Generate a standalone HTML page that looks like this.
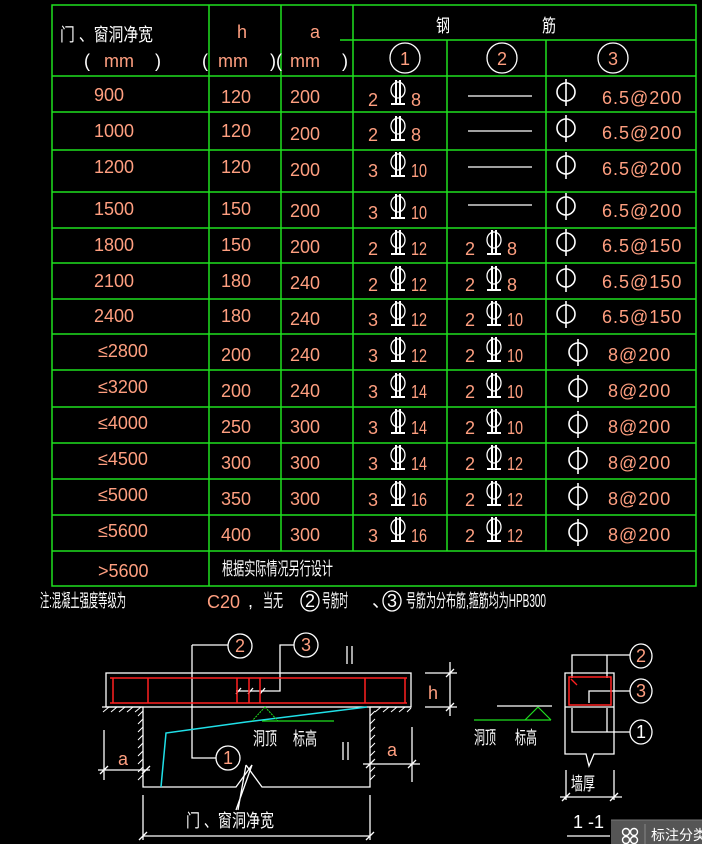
<!DOCTYPE html>
<html><head><meta charset="utf-8"><style>
html,body{margin:0;padding:0;background:#000;}
svg{display:block}
text{font-family:"Liberation Sans","Noto Sans CJK SC",sans-serif;}
.s{fill:#ff9f80;font-size:18px}
.w{fill:#fff;font-size:18px}
.g{stroke:#1fe01f;stroke-width:1.5;fill:none}
.l{stroke:#fff;stroke-width:1.3;fill:none}
.r{stroke:#ff2020;stroke-width:1.5;fill:none}
.c{stroke:#20e0e8;stroke-width:1.5;fill:none}
.gr{stroke:#1fe01f;stroke-width:1.3;fill:none}
</style></head><body>
<svg width="702" height="844" viewBox="0 0 702 844" xmlns="http://www.w3.org/2000/svg">
<defs>
<g id="hrb"><ellipse cx="0" cy="0" rx="7" ry="8" fill="none" stroke="#fff" stroke-width="1.3"/><path d="M-2 -10V14M2 -10V14M-7 14H7" stroke="#fff" stroke-width="2" fill="none"/></g>
<g id="phi"><ellipse cx="0" cy="0" rx="9" ry="9" fill="none" stroke="#fff" stroke-width="1.6"/><path d="M0 -13V14" stroke="#fff" stroke-width="1.6"/></g>
</defs>
<rect width="702" height="844" fill="#000"/>
<g class="g">
<rect x="52" y="5" width="644" height="581"/>
<line x1="340" y1="40" x2="696" y2="40"/>
<line x1="209" y1="5" x2="209" y2="586"/>
<line x1="281" y1="5" x2="281" y2="551"/>
<line x1="353" y1="5" x2="353" y2="551"/>
<line x1="447" y1="40" x2="447" y2="551"/>
<line x1="546" y1="40" x2="546" y2="551"/>
<line x1="52" y1="76" x2="696" y2="76"/>
<line x1="52" y1="112" x2="696" y2="112"/>
<line x1="52" y1="150" x2="696" y2="150"/>
<line x1="52" y1="192" x2="696" y2="192"/>
<line x1="52" y1="228" x2="696" y2="228"/>
<line x1="52" y1="263" x2="696" y2="263"/>
<line x1="52" y1="299" x2="696" y2="299"/>
<line x1="52" y1="334" x2="696" y2="334"/>
<line x1="52" y1="370" x2="696" y2="370"/>
<line x1="52" y1="407" x2="696" y2="407"/>
<line x1="52" y1="443" x2="696" y2="443"/>
<line x1="52" y1="479" x2="696" y2="479"/>
<line x1="52" y1="515" x2="696" y2="515"/>
<line x1="52" y1="551" x2="696" y2="551"/>
</g>
<text class="w" x="60" y="41" font-size="20" textLength="93" lengthAdjust="spacingAndGlyphs">门 、窗洞净宽</text>
<text class="w" x="84" y="67">(</text><text class="s" x="104" y="67" font-size="15">mm</text><text class="w" x="155" y="67">)</text>
<text class="w" x="202" y="67">(</text><text class="s" x="218" y="67" font-size="15">mm</text><text class="w" x="270" y="67">)(</text>
<text class="s" x="290" y="67" font-size="15">mm</text><text class="w" x="342" y="67">)</text>
<text class="s" x="237" y="38" font-size="19">h</text>
<text class="s" x="310" y="38" font-size="19">a</text>
<text class="w" x="436" y="32" font-size="20" textLength="14" lengthAdjust="spacingAndGlyphs">钢</text><text class="w" x="542" y="32" font-size="20" textLength="14" lengthAdjust="spacingAndGlyphs">筋</text>
<g class="l"><ellipse cx="405" cy="58" rx="15" ry="15"/><ellipse cx="502" cy="58" rx="15" ry="15"/><ellipse cx="613" cy="58" rx="15" ry="15"/></g>
<text class="s" x="405" y="65" text-anchor="middle">1</text>
<text class="s" x="502" y="65" text-anchor="middle">2</text>
<text class="s" x="613" y="65" text-anchor="middle">3</text>

<g class="s">
<text x="94" y="101">900</text><text x="221" y="103">120</text><text x="290" y="103">200</text>
<text x="94" y="137">1000</text><text x="221" y="137">120</text><text x="290" y="140">200</text>
<text x="94" y="173">1200</text><text x="221" y="173">120</text><text x="290" y="176">200</text>
<text x="94" y="215">1500</text><text x="221" y="215">150</text><text x="290" y="217">200</text>
<text x="94" y="251">1800</text><text x="221" y="251">150</text><text x="290" y="253">200</text>
<text x="94" y="287">2100</text><text x="221" y="287">180</text><text x="290" y="289">240</text>
<text x="94" y="322">2400</text><text x="221" y="322">180</text><text x="290" y="325">240</text>
<text x="98" y="357">≤2800</text><text x="221" y="361">200</text><text x="290" y="361">240</text>
<text x="98" y="393">≤3200</text><text x="221" y="397">200</text><text x="290" y="397">240</text>
<text x="98" y="429">≤4000</text><text x="221" y="433">250</text><text x="290" y="433">300</text>
<text x="98" y="465">≤4500</text><text x="221" y="469">300</text><text x="290" y="469">300</text>
<text x="98" y="501">≤5000</text><text x="221" y="505">350</text><text x="290" y="505">300</text>
<text x="98" y="537">≤5600</text><text x="221" y="541">400</text><text x="290" y="541">300</text>
<text x="98" y="577">&gt;5600</text>
</g>
<text class="w" x="222" y="575" font-size="19" textLength="111" lengthAdjust="spacingAndGlyphs">根据实际情况另行设计</text>

<g class="s">
<text x="368" y="106">2</text><text x="411" y="106">8</text>
<text x="368" y="141">2</text><text x="411" y="141">8</text>
<text x="368" y="177">3</text><text x="411" y="177" textLength="16" lengthAdjust="spacingAndGlyphs">10</text>
<text x="368" y="219">3</text><text x="411" y="219" textLength="16" lengthAdjust="spacingAndGlyphs">10</text>
<text x="368" y="255">2</text><text x="411" y="255" textLength="16" lengthAdjust="spacingAndGlyphs">12</text>
<text x="368" y="291">2</text><text x="411" y="291" textLength="16" lengthAdjust="spacingAndGlyphs">12</text>
<text x="368" y="326">3</text><text x="411" y="326" textLength="16" lengthAdjust="spacingAndGlyphs">12</text>
<text x="368" y="362">3</text><text x="411" y="362" textLength="16" lengthAdjust="spacingAndGlyphs">12</text>
<text x="368" y="398">3</text><text x="411" y="398" textLength="16" lengthAdjust="spacingAndGlyphs">14</text>
<text x="368" y="434">3</text><text x="411" y="434" textLength="16" lengthAdjust="spacingAndGlyphs">14</text>
<text x="368" y="470">3</text><text x="411" y="470" textLength="16" lengthAdjust="spacingAndGlyphs">14</text>
<text x="368" y="506">3</text><text x="411" y="506" textLength="16" lengthAdjust="spacingAndGlyphs">16</text>
<text x="368" y="542">3</text><text x="411" y="542" textLength="16" lengthAdjust="spacingAndGlyphs">16</text>
</g>
<use href="#hrb" x="398" y="90"/><use href="#hrb" x="398" y="126"/><use href="#hrb" x="398" y="162"/><use href="#hrb" x="398" y="204"/>
<use href="#hrb" x="398" y="240"/><use href="#hrb" x="398" y="276"/><use href="#hrb" x="398" y="311"/><use href="#hrb" x="398" y="347"/>
<use href="#hrb" x="398" y="383"/><use href="#hrb" x="398" y="419"/><use href="#hrb" x="398" y="455"/><use href="#hrb" x="398" y="491"/><use href="#hrb" x="398" y="527"/>
<g class="l"><line x1="468" y1="96" x2="532" y2="96"/><line x1="468" y1="131" x2="532" y2="131"/><line x1="468" y1="167" x2="532" y2="167"/><line x1="468" y1="205" x2="532" y2="205"/></g>
<g class="s">
<text x="465" y="255">2</text><text x="507" y="255">8</text>
<text x="465" y="291">2</text><text x="507" y="291">8</text>
<text x="465" y="326">2</text><text x="507" y="326" textLength="16" lengthAdjust="spacingAndGlyphs">10</text>
<text x="465" y="362">2</text><text x="507" y="362" textLength="16" lengthAdjust="spacingAndGlyphs">10</text>
<text x="465" y="398">2</text><text x="507" y="398" textLength="16" lengthAdjust="spacingAndGlyphs">10</text>
<text x="465" y="434">2</text><text x="507" y="434" textLength="16" lengthAdjust="spacingAndGlyphs">10</text>
<text x="465" y="470">2</text><text x="507" y="470" textLength="16" lengthAdjust="spacingAndGlyphs">12</text>
<text x="465" y="506">2</text><text x="507" y="506" textLength="16" lengthAdjust="spacingAndGlyphs">12</text>
<text x="465" y="542">2</text><text x="507" y="542" textLength="16" lengthAdjust="spacingAndGlyphs">12</text>
</g>
<use href="#hrb" x="494" y="240"/><use href="#hrb" x="494" y="276"/><use href="#hrb" x="494" y="311"/><use href="#hrb" x="494" y="347"/>
<use href="#hrb" x="494" y="383"/><use href="#hrb" x="494" y="419"/><use href="#hrb" x="494" y="455"/><use href="#hrb" x="494" y="491"/><use href="#hrb" x="494" y="527"/>
<g class="s" letter-spacing="1">
<text x="602" y="104">6.5@200</text><text x="602" y="139">6.5@200</text><text x="602" y="175">6.5@200</text><text x="602" y="217">6.5@200</text>
<text x="602" y="252">6.5@150</text><text x="602" y="288">6.5@150</text><text x="602" y="323">6.5@150</text>
<text x="608" y="361">8@200</text><text x="608" y="397">8@200</text><text x="608" y="433">8@200</text><text x="608" y="469">8@200</text><text x="608" y="505">8@200</text><text x="608" y="541">8@200</text>
</g>
<use href="#phi" x="566" y="92"/><use href="#phi" x="566" y="128"/><use href="#phi" x="566" y="165"/><use href="#phi" x="566" y="206"/>
<use href="#phi" x="566" y="242"/><use href="#phi" x="566" y="278"/><use href="#phi" x="566" y="314"/>
<use href="#phi" x="578" y="352"/><use href="#phi" x="578" y="388"/><use href="#phi" x="578" y="424"/><use href="#phi" x="578" y="460"/><use href="#phi" x="578" y="496"/><use href="#phi" x="578" y="532"/>

<!-- note -->
<text class="w" x="40" y="607" font-size="15" textLength="86" lengthAdjust="spacingAndGlyphs">注:混凝土强度等级为</text>
<text class="s" x="207" y="608" font-size="16">C20</text>
<text class="w" x="248" y="607" font-size="15">,</text>
<text class="w" x="263" y="607" font-size="15" textLength="20" lengthAdjust="spacingAndGlyphs">当无</text>
<ellipse cx="310" cy="601" rx="9" ry="10" class="l"/><text class="w" x="310" y="607" font-size="14" text-anchor="middle">2</text>
<text class="w" x="322" y="607" font-size="15" textLength="26" lengthAdjust="spacingAndGlyphs">号筋时</text>
<text class="w" x="372" y="607" font-size="14">、</text>
<ellipse cx="392" cy="601" rx="9" ry="10" class="l"/><text class="w" x="392" y="607" font-size="14" text-anchor="middle">3</text>
<text class="w" x="406" y="607" font-size="15" textLength="140" lengthAdjust="spacingAndGlyphs">号筋为分布筋,箍筋均为HPB300</text>

<!-- elevation -->
<g class="l">
<rect x="106" y="673" width="305" height="34"/>
<path d="M102 707H143V787H236L252 765M246 765L262 787H370V707H411"/>
<path d="M143 795V840M370 795V840M143 836H370M139 840L147 832M366 840L374 832"/>
<path d="M192 645H228M192 645V758H216"/>
<path d="M294 645H280V691H236M236 694L241 688M248 694L253 688M260 694L265 688"/>
<path d="M425 673H457M425 707H457M450 662V716M446 677L454 669M446 711L454 703"/>
<path d="M104 730V780M98 770H150M100 774L108 766M142 774L150 766"/>
<path d="M412 727V782M363 764H420M408 768L416 760M366 768L374 760"/>
<path d="M347 646V664M352 646V664M343 742V760M348 742V760"/>
<path d="M252 765L236 810M246 765L238 810"/>
</g>
<g stroke="#fff" stroke-width="1">
<path d="M103 712l6-5M111 712l6-5M119 712l6-5M127 712l6-5M135 712l6-5M375 712l6-5M383 712l6-5M391 712l6-5M399 712l6-5M407 712l4-4"/>
<path d="M138 716l5-5M138 724l5-5M138 732l5-5M138 740l5-5M138 748l5-5M138 756l5-5M138 764l5-5M138 772l5-5M138 780l5-5M370 716l5-5M370 724l5-5M370 732l5-5M370 740l5-5M370 748l5-5M370 756l5-5M370 764l5-5M370 772l5-5M370 780l5-5"/>
</g>
<g class="r">
<line x1="110" y1="678" x2="407" y2="678"/><line x1="110" y1="703" x2="407" y2="703"/>
<path d="M113 678V703M148 678V703M237 678V703M249 678V703M260 678V703M365 678V703M405 678V703"/>
</g>
<path class="c" d="M161 787L166 733L246 722L367 707"/>
<path d="M265 707L252 721M265 707L278 721" stroke="#1fe01f" stroke-width="1" stroke-dasharray="2 1" fill="none"/>
<line class="gr" x1="262" y1="721" x2="334" y2="721"/>
<ellipse cx="240" cy="646" rx="12" ry="12" class="l"/><text class="s" x="240" y="652" font-size="16" text-anchor="middle">2</text>
<ellipse cx="306" cy="645" rx="12" ry="12" class="l"/><text class="s" x="306" y="651" font-size="16" text-anchor="middle">3</text>
<ellipse cx="228" cy="758" rx="12" ry="12" class="l"/><text class="s" x="228" y="764" font-size="16" text-anchor="middle">1</text>
<text class="w" x="253" y="745" font-size="18" textLength="24" lengthAdjust="spacingAndGlyphs">洞顶</text><text class="w" x="293" y="745" font-size="18" textLength="24" lengthAdjust="spacingAndGlyphs">标高</text>
<text class="s" x="428" y="699" font-size="17">h</text>
<text class="s" x="118" y="765" font-size="16">a</text>
<text class="s" x="387" y="756" font-size="16">a</text>
<text class="w" x="186" y="827" font-size="19" textLength="88" lengthAdjust="spacingAndGlyphs">门 、窗洞净宽</text>

<line class="l" x1="497" y1="706" x2="552" y2="706"/>
<line class="gr" x1="474" y1="720" x2="551" y2="720"/>
<path d="M538 707L525 720M538 707L551 720" stroke="#1fe01f" stroke-width="1.2" fill="none"/>
<text class="w" x="474" y="744" font-size="18" textLength="22" lengthAdjust="spacingAndGlyphs">洞顶</text><text class="w" x="515" y="744" font-size="18" textLength="22" lengthAdjust="spacingAndGlyphs">标高</text>

<g class="l">
<path d="M565 673H614V754H594L589 766L586 754H565Z"/>
<line x1="565" y1="707" x2="614" y2="707"/>
<path d="M630 655H572V678M607 655V678"/>
<path d="M630 691H589V703"/>
<path d="M630 732H572V708M607 708V732"/>
<path d="M566 770V800M614 770V800M560 797H622M562 801L570 793M610 801L618 793"/>
<path d="M567 836H610"/>
</g>
<rect x="569" y="677" width="42" height="28" class="r"/>
<path d="M571 679l6 6" stroke="#ff2020" stroke-width="1.3"/>
<ellipse cx="641" cy="656" rx="11" ry="12" class="l"/><text class="s" x="641" y="662" font-size="16" text-anchor="middle">2</text>
<ellipse cx="641" cy="691" rx="11" ry="12" class="l"/><text class="s" x="641" y="697" font-size="16" text-anchor="middle">3</text>
<ellipse cx="641" cy="732" rx="11" ry="12" class="l"/><text class="w" x="641" y="738" font-size="16" text-anchor="middle">1</text>
<text class="w" x="571" y="790" font-size="18" textLength="24" lengthAdjust="spacingAndGlyphs">墙厚</text>
<text class="w" x="573" y="828" font-size="19">1 -1</text>

<rect x="611" y="820" width="91" height="24" fill="#555"/>
<line x1="611" y1="820" x2="702" y2="820" stroke="#777"/>
<g stroke="#fff" stroke-width="1.4" fill="none"><circle cx="626" cy="832" r="3.5"/><circle cx="634" cy="832" r="3.5"/><circle cx="626" cy="840" r="3.5"/><circle cx="634" cy="840" r="3.5"/></g>
<line x1="645" y1="824" x2="645" y2="844" stroke="#888"/>
<text x="651" y="840" fill="#fff" font-size="14">标注分类</text>
</svg>
</body></html>
